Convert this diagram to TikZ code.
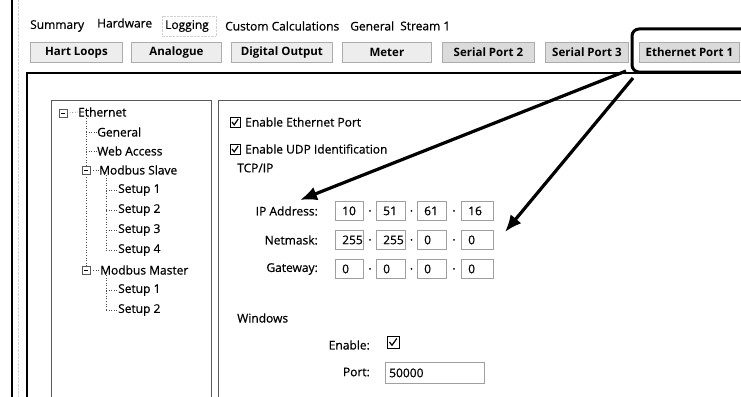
\documentclass[tikz,border=0pt]{standalone}
\usepackage{fontspec}
\setmainfont{Open Sans}
\newfontfamily\uifont{Open Sans}[FakeBold=0.6]
\usetikzlibrary{arrows.meta,calc}
\begin{document}
\begin{tikzpicture}[x=1pt,y=-1pt,
  every node/.style={font=\fontsize{12}{14}\selectfont\uifont, inner sep=0pt},
  lbl/.style={anchor=west},
  rlbl/.style={anchor=east},
  btn/.style={draw=gray!65, line width=0.8pt, fill=gray!14, font=\fontsize{11.5}{14}\selectfont\bfseries, minimum height=20pt, anchor=north west},
  btndark/.style={btn, fill=gray!28},
  field/.style={draw=gray!75, line width=0.8pt, minimum height=19pt, anchor=north west},
  chk/.style={draw, line width=1pt, minimum size=10pt},
  tick/.style={line width=1.2pt},
  minus/.style={draw=gray!70!black, line width=0.6pt, minimum size=8pt},
  tree/.style={gray!60!black, dotted, line width=0.6pt},
  frame/.style={line width=0.9pt, draw=gray!70!black},
  bigarrow/.style={line width=3.2pt, -{Latex[length=17pt,width=14pt]}},
  ipdot/.style={fill, circle, minimum size=2pt}
]
\useasboundingbox (0,0) rectangle (741,396);
\clip (0,0) rectangle (741,396);

% outer frame lines
\draw[line width=1.8pt] (12,0) -- (12,400);
\draw[gray!35, densely dotted] (18,0) -- (18,400);

% tabs
\node[lbl] (tsum) at (30,26) {Summary};
\node[lbl] (thw) at (97,23) {Hardware};
\node[lbl] (tlog) at (165,26) {Logging};
\draw[gray!35, densely dotted] (162,16) rectangle (216,36);
\node[lbl] (tcc) at (225,26) {Custom Calculations};
\node[lbl] (tgen) at (350,26) {General};
\node[lbl] (tst) at (400,26) {Stream 1};

% sub buttons
\node[btn, minimum width=92pt] (b1) at (30,42) {Hart Loops};
\node[btn, minimum width=90pt] (b2) at (131,42) {Analogue};
\node[btn, minimum width=101pt] (b3) at (231,42) {Digital Output};
\node[btn, minimum width=89pt] (b4) at (342,42) {Meter};
\node[btndark, minimum width=92pt] (b5) at (442,42) {Serial Port 2};
\node[btndark, minimum width=83pt] (b6) at (545,42) {Serial Port 3};
\node[btndark, minimum width=100pt] (b7) at (639,42) {Ethernet Port 1};

% panel
\draw[line width=1.6pt] (27,400) -- (27,73) -- (745,73);
% highlight
\draw[line width=3pt, rounded corners=7pt] (632,29) rectangle (770,72);

% tree frame and content frame
\draw[frame] (51,400) -- (51,100) -- (211,100) -- (211,400);
\draw[frame] (218,400) -- (218,100) -- (745,100);

% tree
\node[minus] (m0) at (63,113) {};
\draw[line width=0.6pt] ([xshift=-2pt]m0.center) -- ([xshift=2pt]m0.center);
\node[lbl] (teth) at (78,112) {Ethernet};
\draw[tree] (m0.east) -- (teth.west);
\coordinate (trk0) at (86,118);
\node[lbl] (tgenr) at (97,132) {General};
\node[lbl] (tweb) at (97,151) {Web Access};
\node[minus] (m1) at (86,170) {};
\draw[line width=0.6pt] ([xshift=-2pt]m1.center) -- ([xshift=2pt]m1.center);
\node[lbl] (tms) at (99,170) {Modbus Slave};
\node[lbl] (s1) at (118,190) {Setup 1};
\node[lbl] (s2) at (118,210) {Setup 2};
\node[lbl] (s3) at (118,230) {Setup 3};
\node[lbl] (s4) at (118,250) {Setup 4};
\node[minus] (m2) at (86,270) {};
\draw[line width=0.6pt] ([xshift=-2pt]m2.center) -- ([xshift=2pt]m2.center);
\node[lbl] (tmm) at (100,270) {Modbus Master};
\node[lbl] (u1) at (118,290) {Setup 1};
\node[lbl] (u2) at (118,310) {Setup 2};

\draw[tree] (trk0) -- (m1.north);
\draw[tree] (m1.south) -- (m2.north);
\draw[tree] (86,132) -- (tgenr.west);
\draw[tree] (86,151) -- (tweb.west);
\draw[tree] (m1.east) -- (tms.west);
\draw[tree] (m2.east) -- (tmm.west);
\draw[tree] (106,175) -- (106,250);
\foreach \n/\yy in {s1/190,s2/210,s3/230,s4/250} \draw[tree] (106,\yy) -- (\n.west);
\draw[tree] (106,275) -- (106,310);
\foreach \n/\yy in {u1/290,u2/310} \draw[tree] (106,\yy) -- (\n.west);

% checkboxes
\node[chk] (cb1) at (235,122) {};
\draw[tick] ([shift={(-3,0)}]cb1.center) -- ([shift={(-0.8,2.8)}]cb1.center) -- ([shift={(3.2,-3)}]cb1.center);
\node[lbl] (tcb1) at (245,122) {Enable Ethernet Port};
\node[chk] (cb2) at (235,149) {};
\draw[tick] ([shift={(-3,0)}]cb2.center) -- ([shift={(-0.8,2.8)}]cb2.center) -- ([shift={(3.2,-3)}]cb2.center);
\node[lbl] (tcb2) at (245,149) {Enable UDP Identification};

\node[lbl] (ttcp) at (237,168) {TCP/IP};

% IP rows
\node[rlbl] (lip) at (318,211) {IP Address:};
\node[rlbl] (lnm) at (318,240) {Netmask:};
\node[rlbl] (lgw) at (318,269) {Gateway:};

\foreach \r/\yy/\a/\b/\c/\d in {ip/201/10/51/61/16, nm/230/255/255/0/0, gw/259/0/0/0/0}{
  \node[field, minimum width=28pt] (\r1) at (335,\yy) {};
  \node[field, minimum width=29pt] (\r2) at (376,\yy) {};
  \node[field, minimum width=29pt] (\r3) at (417,\yy) {};
  \node[field, minimum width=32pt] (\r4) at (461,\yy) {};
  \node[lbl] at ([xshift=7pt]\r1.west) {\a};
  \node[lbl] at ([xshift=7pt]\r2.west) {\b};
  \node[lbl] at ([xshift=7pt]\r3.west) {\c};
  \node[lbl] at ([xshift=7pt]\r4.west) {\d};
  \node[ipdot] at ($(\r1.east)!0.5!(\r2.west)$) {};
  \node[ipdot] at ($(\r2.east)!0.5!(\r3.west)$) {};
  \node[ipdot] at ($(\r3.east)!0.5!(\r4.west)$) {};
}

% Windows
\node[lbl] (twin) at (237,318) {Windows};
\node[rlbl] (len) at (370,345) {Enable:};
\node[chk, minimum size=12pt] (cb3) at (393,342) {};
\draw[tick] ([shift={(-3.5,0)}]cb3.center) -- ([shift={(-1,3.2)}]cb3.center) -- ([shift={(3.8,-3.5)}]cb3.center);
\node[rlbl] (lport) at (370,372) {Port:};
\node[field, minimum width=99pt, minimum height=21pt] (port) at (385,362) {};
\node[lbl] at ([xshift=4pt]port.west) {50000};

% arrows
\coordinate (a1s) at (626,71);
\coordinate (a1e) at (300,200);
\coordinate (a2s) at (633,78);
\coordinate (a2e) at (505,232);
\draw[bigarrow] (a1s) -- (a1e);
\draw[bigarrow] (a2s) -- (a2e);
\end{tikzpicture}
\end{document}
